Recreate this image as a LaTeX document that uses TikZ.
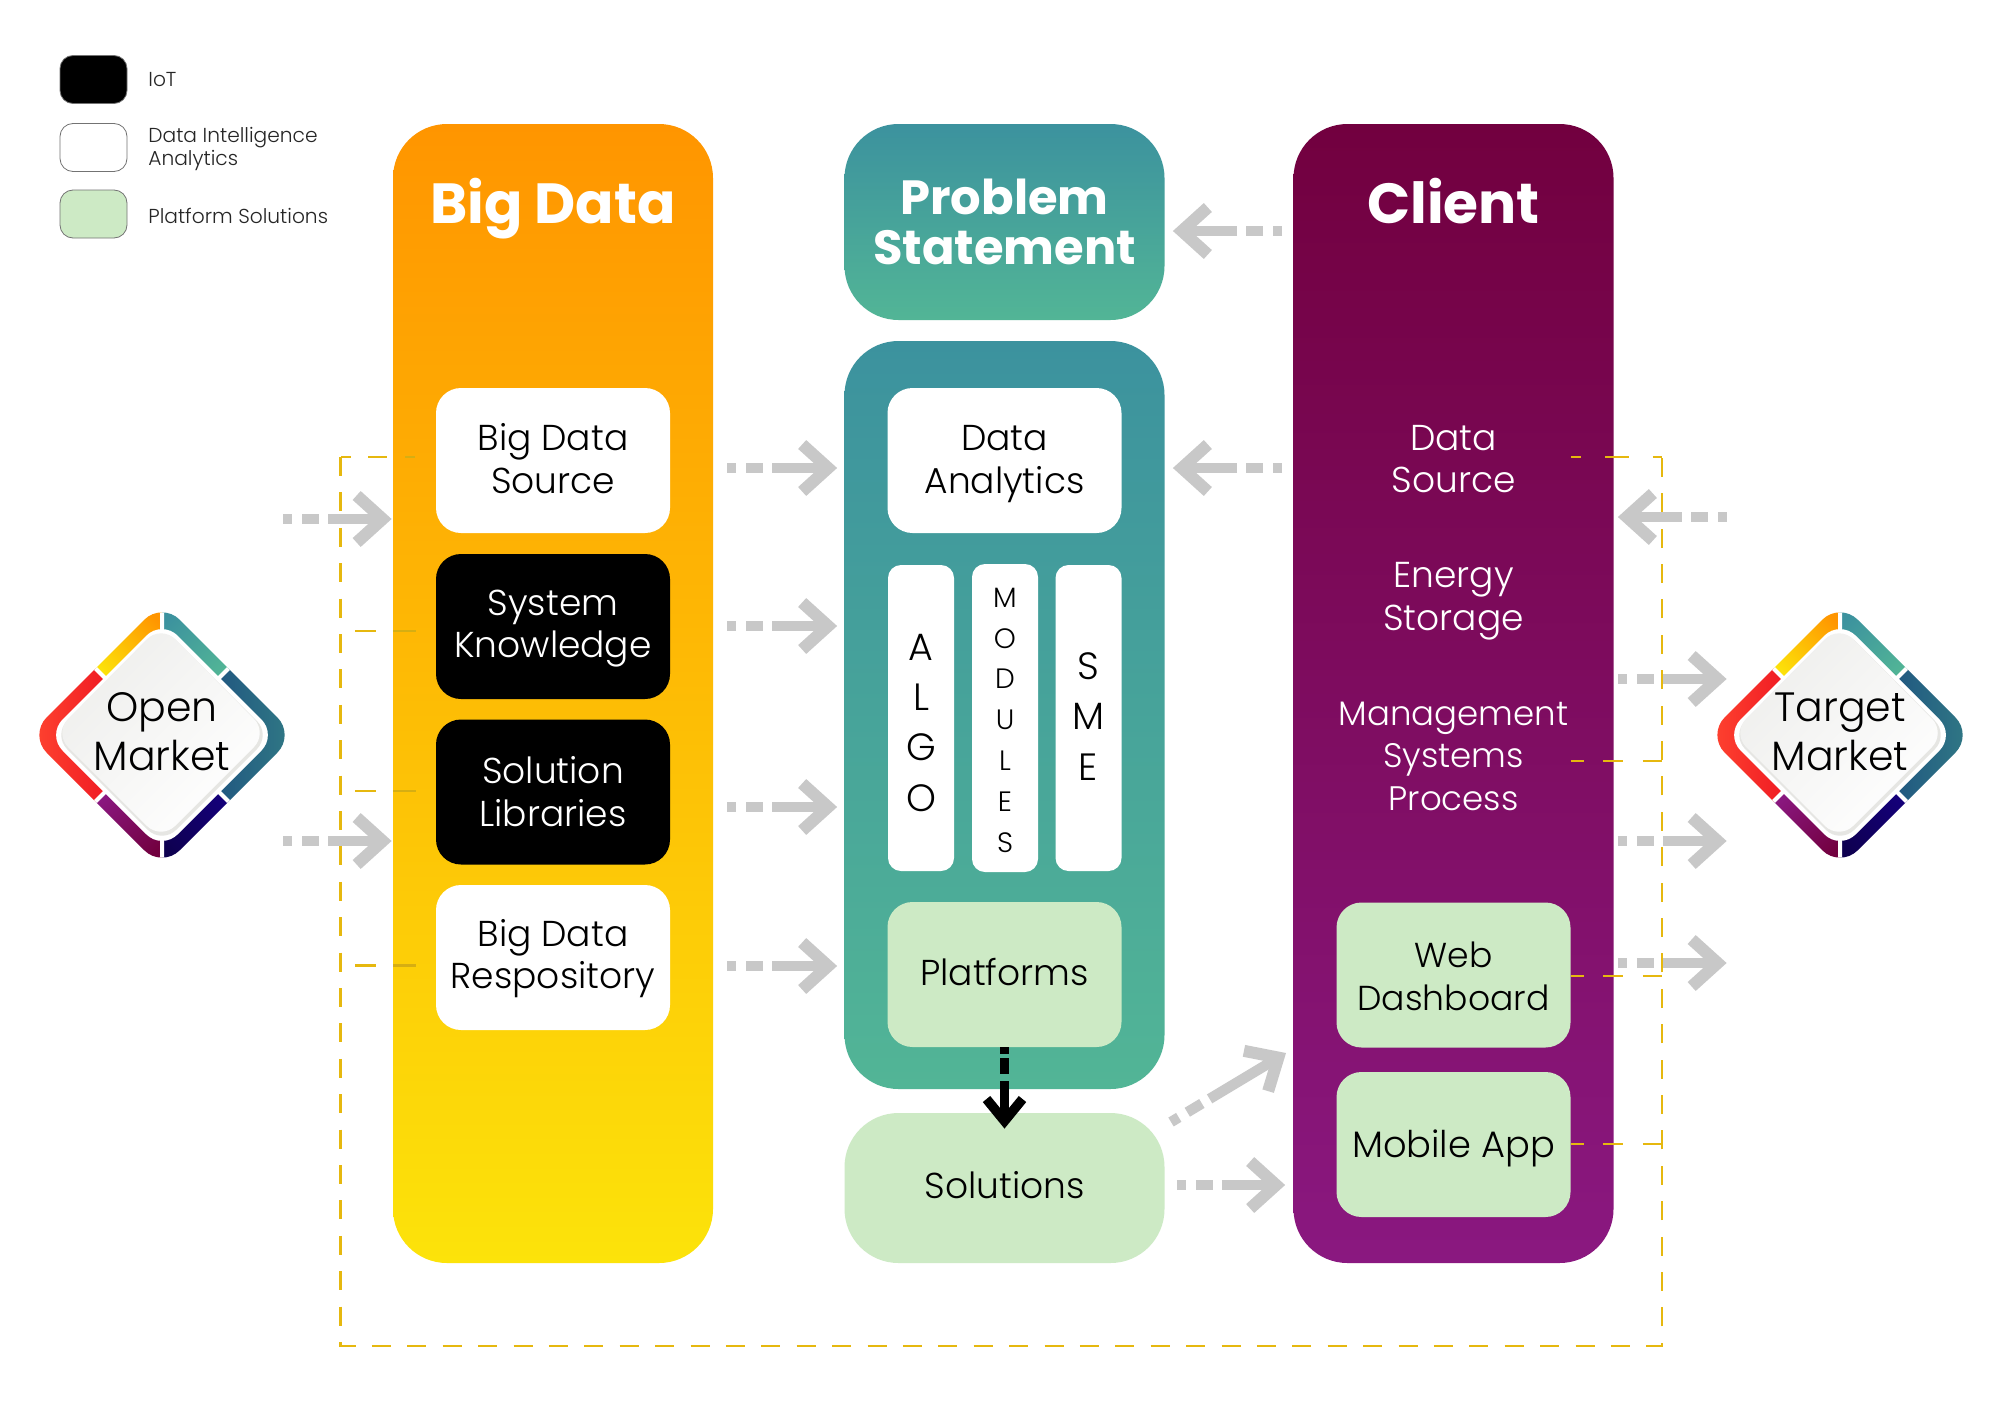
\documentclass[tikz,border=0pt]{standalone}
\usepackage{fontspec}
\setmainfont{Poppins Light}[BoldFont={Poppins Bold}]
\usetikzlibrary{arrows.meta}
\definecolor{orangeT}{HTML}{FF9500}
\definecolor{yellowB}{HTML}{FCE30A}
\definecolor{tealT}{HTML}{3C929E}
\definecolor{tealB}{HTML}{52B596}
\definecolor{plumT}{HTML}{72003F}
\definecolor{plumB}{HTML}{8A1880}
\definecolor{mint}{HTML}{CDEAC5}
\definecolor{arrgray}{HTML}{C8C8C8}
\definecolor{dashy}{HTML}{E6B80F}
\definecolor{dasholive}{HTML}{D6AE12}
\definecolor{HTMLblue}{HTML}{1F5480}
\definecolor{HTMLbluer}{HTML}{317A85}
\definecolor{HTMLnavy}{HTML}{14007A}
\definecolor{HTMLnavyd}{HTML}{0E0050}
\definecolor{HTMLred}{HTML}{EE1622}
\definecolor{HTMLredl}{HTML}{FF4530}
\definecolor{HTMLrim}{HTML}{E6E6E3}
\definecolor{HTMLpale}{HTML}{EEEEEC}
\tikzset{
  x=0.5pt,y=-0.5pt,
  bl/.code={\pgfmathsetmacro\tmpbl{10+2*#1}\tikzset{text depth=10pt,text height=\tmpbl pt}},
  col/.style={rounded corners=27pt,minimum width=160pt,inner sep=0pt,align=center},
  boxbase/.style={rounded corners=12.5pt,minimum width=117pt,minimum height=72.5pt,inner sep=0pt,align=center,font=\fontsize{18}{21.25}\selectfont},
  whitebox/.style={boxbase,fill=white,text=black},
  blackbox/.style={boxbase,fill=black,text=white},
  mintbox/.style={boxbase,fill=mint,text=black},
  stripbox/.style={rounded corners=6.5pt,fill=white,minimum width=33pt,minimum height=153pt,inner sep=0pt,align=center},
  cliptext/.style={inner sep=0pt,align=center,text=white,font=\fontsize{18}{21.25}\selectfont},
  title/.style={inner sep=0pt,anchor=base,align=center,text=white,font=\fontsize{28.3}{30}\selectfont\bfseries},
  legbox/.style={rounded corners=6.5pt,minimum width=33.5pt,minimum height=24pt,inner sep=0pt,draw=black!55,line width=0.4pt},
  legtext/.style={inner sep=0pt,anchor=west,align=left,text=black!85,font=\fontsize{10.1}{11.2}\selectfont},
  frameline/.style={draw=dashy,line width=1.25pt,dash pattern=on 9.5pt off 8.2pt},
  tickline/.style={draw=dashy,line width=1.25pt},
  tickolive/.style={draw=dasholive,line width=1.25pt},
  flow/.style={draw=arrgray,line width=5.2pt,dash pattern=on 4.5pt off 5pt on 8.5pt off 4.5pt on 200pt,
     -{Straight Barb[length=13pt,width=23.5pt,line width=6pt]}},
  flowblack/.style={draw=black,line width=4.4pt,dash pattern=on 3.5pt off 2pt on 8pt off 3.5pt on 200pt,
     -{Straight Barb[length=11pt,width=18pt,line width=4.8pt]}},
  wedge/.style={draw=none},
}
\newcommand{\marketdiamond}[4]{%
  \begin{scope}[shift={(#2,#3)}]
    \begin{scope}
      \clip[rounded corners=12.5pt] (0,-133) -- (133,0) -- (0,133) -- (-133,0) -- cycle;
      \shade[wedge,top color=orangeT,bottom color=yellowB,shading angle=-45] (0,-133) -- (-66.5,-66.5) -- (-46,-46) -- (0,-93) -- cycle;
      \shade[wedge,top color=tealT,bottom color=tealB,shading angle=45] (0,-133) -- (66.5,-66.5) -- (46,-46) -- (0,-93) -- cycle;
      \shade[wedge,left color=HTMLblue,right color=HTMLbluer] (133,0) -- (66.5,-66.5) -- (46,-46) -- (93,0) -- (46,46) -- (66.5,66.5) -- cycle;
      \shade[wedge,top color=HTMLnavyd,bottom color=HTMLnavy,shading angle=135] (0,133) -- (66.5,66.5) -- (46,46) -- (0,93) -- cycle;
      \shade[wedge,top color=plumT,bottom color=plumB,shading angle=-135] (0,133) -- (-66.5,66.5) -- (-46,46) -- (0,93) -- cycle;
      \shade[wedge,left color=HTMLredl,right color=HTMLred] (-133,0) -- (-66.5,-66.5) -- (-46,-46) -- (-93,0) -- (-46,46) -- (-66.5,66.5) -- cycle;
      \draw[white,line width=2pt] (0,-140) -- (0,-80) (0,140) -- (0,80)
        (72,-72) -- (40,-40) (-72,-72) -- (-40,-40) (72,72) -- (40,40) (-72,72) -- (-40,40);
    \end{scope}
    \fill[white,rounded corners=11pt] (0,-115) -- (115,0) -- (0,115) -- (-115,0) -- cycle;
    \fill[HTMLrim,rounded corners=10pt] (0,-109) -- (109,0) -- (0,109) -- (-109,0) -- cycle;
    \shade[top color=HTMLpale,bottom color=white,shading angle=45,rounded corners=10pt] (-1,-110) -- (106,-2) -- (-1,105) -- (-108,-2) -- cycle;
  \end{scope}
  \node[minimum width=123pt,minimum height=123pt,inner sep=0pt,align=center,text=black,font=\fontsize{20.5}{24.5}\selectfont,bl=17.5] (#1) at (#2,#3) {#4};
}
\begin{document}
\begin{tikzpicture}
\useasboundingbox (0,0) rectangle (2000,1413);
\fill[white] (0,0) rectangle (2000,1413);

% dashed frame (open along its top edge)
\coordinate (frTL) at (340.5,457);
\coordinate (frBR) at (1662,1346);
\draw[frameline] (frTL) -- (frTL |- frBR) -- (frBR) -- (frBR |- frTL);

% legend
\node[legbox,fill=black] (legA) at (93.5,79.5) {};
\node[legbox,fill=white] (legB) at (93.5,147.5) {};
\node[legbox,fill=mint] (legC) at (93.5,214) {};
\node[legtext] (legAt) at (148,80) {IoT};
\node[legtext] (legBt) at (148,149) {Data Intelligence\\Analytics};
\node[legtext] (legCt) at (148,216) {Platform Solutions};

% columns
\node[col,minimum height=569.5pt,top color=orangeT,bottom color=yellowB] (bigcol) at (553,693.5) {};
\node[col,minimum height=98pt,top color=tealT,bottom color=tealB,text=white,font=\fontsize{24}{25}\selectfont\bfseries] (problem) at (1004.5,222) {Problem\\Statement};
\node[col,minimum height=374pt,top color=tealT,bottom color=tealB] (ancol) at (1004.5,715) {};
\node[col,minimum height=75pt,fill=mint,font=\fontsize{18}{21.25}\selectfont,bl=5.25] (solutions) at (1004.5,1188) {Solutions};
\node[col,minimum height=569.5pt,top color=plumT,bottom color=plumB] (clientcol) at (1453.5,693.5) {};

\node[title] (bigtitle) at (553,223.5) {Big Data};
\node[title] (clienttitle) at (1453.5,223.5) {Client};

% big data boxes
\node[whitebox,bl=16.35] (bdsource) at (553,460.5) {Big Data\\Source};
\node[blackbox,bl=15.6] (sysknow) at (553,626.5) {System\\Knowledge};
\node[blackbox,bl=17.1] (sollib) at (553,792) {Solution\\Libraries};
\node[whitebox,bl=15.7] (bdrepo) at (553,957.5) {Big Data\\Respository};

% analytics boxes
\node[whitebox,bl=16.35] (danalytics) at (1004.5,460.5) {Data\\Analytics};
\node[stripbox,font=\fontsize{19}{25.2}\selectfont,bl=46.6] (algo) at (921,718) {A\\L\\G\\O};
\node[stripbox,font=\fontsize{14}{20.4}\selectfont,bl=67] (modules) at (1005,718) {M\\O\\D\\U\\L\\E\\S};
\node[stripbox,font=\fontsize{19}{25.2}\selectfont,bl=31] (sme) at (1088.5,718) {S\\M\\E};
\node[mintbox,bl=5.6] (platforms) at (1004.5,974.5) {Platforms};

% client
\node[cliptext] (cdata) at (1453.5,459) {Data\\Source};
\node[cliptext] (cenergy) at (1453.5,601) {Energy\\Storage};
\node[cliptext,font=\fontsize{17}{21.25}\selectfont] (cmgmt) at (1453.5,756) {Management\\Systems\\Process};
\node[mintbox,bl=17.5,font=\fontsize{17.3}{21.25}\selectfont] (web) at (1453.5,975) {Web\\Dashboard};
\node[mintbox,bl=6.4,font=\fontsize{18.4}{21.25}\selectfont] (mobile) at (1453.5,1144.5) {Mobile App};

% ticks, left
\foreach \nn/\yy in {sysknow/631,sollib/791,bdrepo/965.5}{
  \draw[tickline,dash pattern=on 0pt off 30pt on 10.5pt off 100pt] (\nn.west |- 0,\yy) -- (frTL |- 0,\yy);
  \draw[tickolive,dash pattern=on 0pt off 10pt on 11.5pt off 100pt] (\nn.west |- 0,\yy) -- (frTL |- 0,\yy);
}
\draw[tickline,dash pattern=on 0pt off 24.5pt on 9.5pt off 8.5pt on 5.5pt off 100pt] (bdsource.west |- frTL) -- (frTL);
\draw[tickolive,dash pattern=on 0pt off 10.5pt on 5pt off 100pt] (bdsource.west |- frTL) -- (frTL);
% ticks, right
\draw[tickline,dash pattern=on 5pt off 12pt on 12pt off 12pt on 5pt off 100pt] (web.east |- frTL) -- (frBR |- frTL);
\foreach \nn/\yy in {cmgmt/761,web/976,mobile/1144}{
  \draw[tickline,dash pattern=on 6.5pt off 9.5pt on 10pt off 10pt on 10pt off 100pt] (web.east |- 0,\yy) -- (frBR |- 0,\yy);
}

% diamonds
\marketdiamond{openm}{162}{735}{Open\\Market}
\marketdiamond{targetm}{1840}{735}{Target\\Market}

% flows
\draw[flow,shorten <=-1pt,shorten >=0.5pt] (openm.east |- 0,519) -- (bigcol.west |- 0,519);
\draw[flow,shorten <=-1pt,shorten >=0.5pt] (openm.east |- 0,841) -- (bigcol.west |- 0,841);
\foreach \yy in {468,626,807,966}{
  \draw[flow,shorten <=7pt,shorten >=3.5pt] (bigcol.east |- 0,\yy) -- (ancol.west |- 0,\yy);
}
\draw[flow,shorten <=5.5pt,shorten >=4pt] (clientcol.west |- 0,231) -- (problem.east |- 0,231);
\draw[flow,shorten <=5.5pt,shorten >=4pt] (clientcol.west |- 0,468) -- (ancol.east |- 0,468);
\draw[flow,shorten <=-5pt,shorten >=2pt] (targetm.west |- 0,517) -- (clientcol.east |- 0,517);
\foreach \yy in {679,841,963}{
  \draw[flow,shorten <=2pt,shorten >=-5pt] (clientcol.east |- 0,\yy) -- (targetm.west |- 0,\yy);
}
\draw[flow,shorten <=6pt,shorten >=4pt] (solutions.east |- 0,1185) -- (clientcol.west |- 0,1185);
\coordinate (diagStart) at (1171,1122);
\coordinate (diagEnd) at (1286,1053);
\draw[flow] (diagStart) -- (diagEnd);
\draw[flowblack] (platforms.south) -- ([yshift=-8pt]solutions.north);
\end{tikzpicture}
\end{document}
